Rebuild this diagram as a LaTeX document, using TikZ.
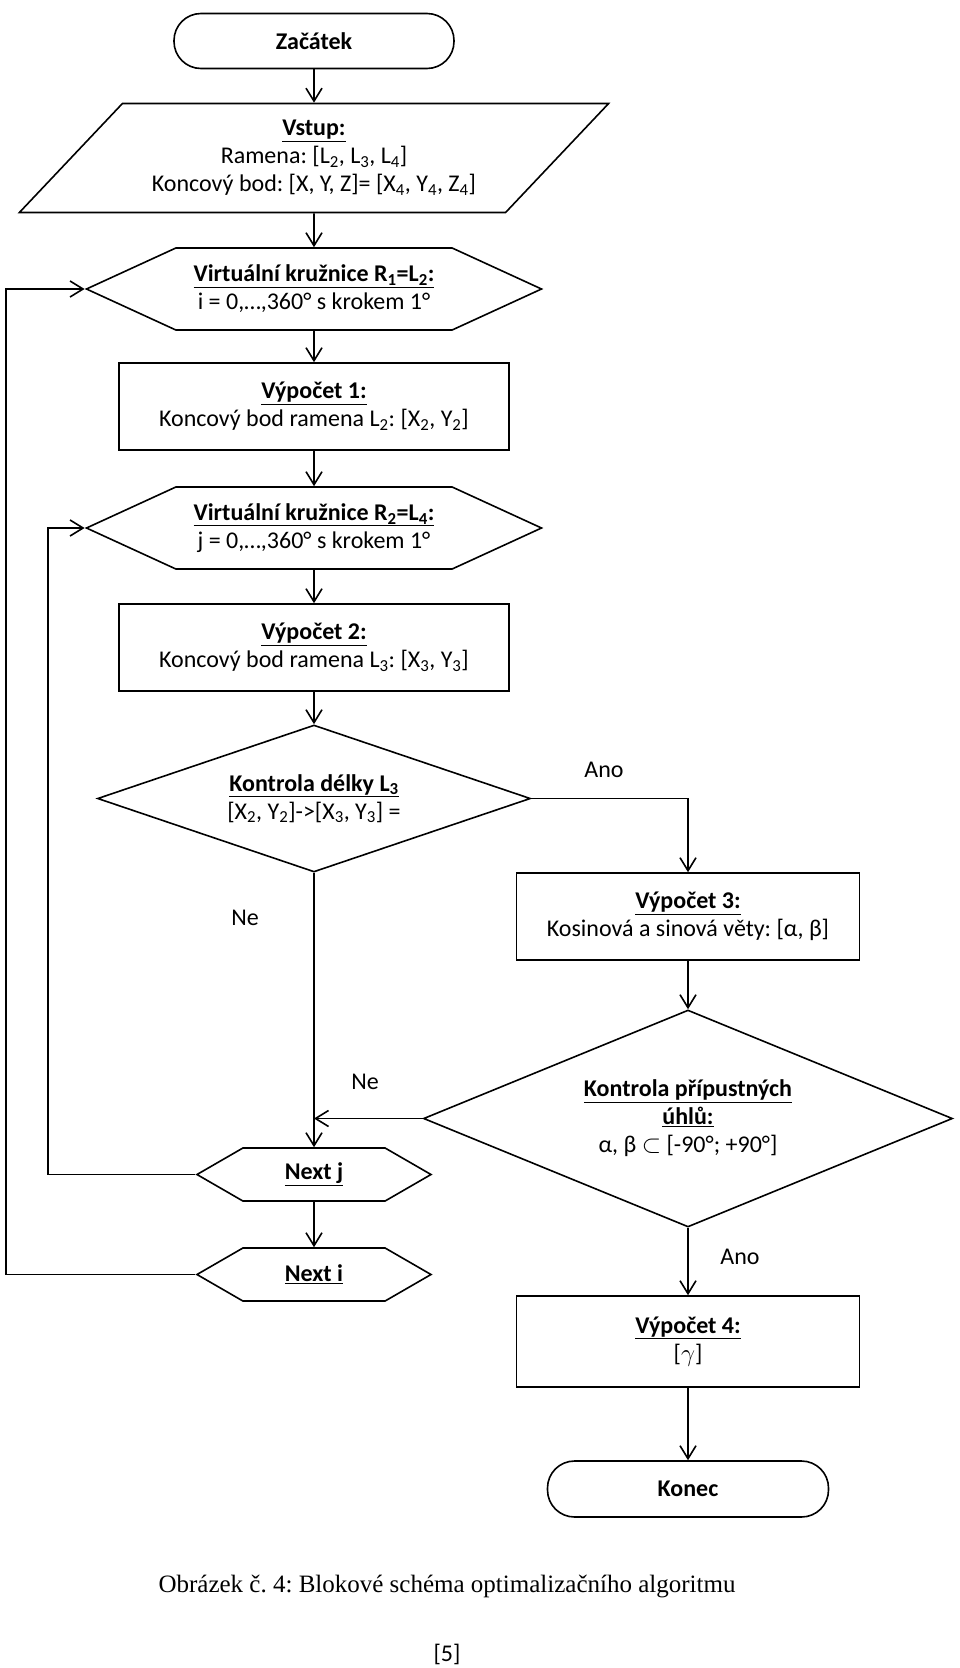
\documentclass[tikz,border=0pt]{standalone}
\usepackage{fontspec}
\setmainfont{Carlito}
\newfontfamily\popisfont{Liberation Serif}
\usetikzlibrary{arrows.meta,shapes.geometric,shapes.symbols}
\newcommand{\nadpis}[1]{\underline{\textbf{#1}}}
\frenchspacing

\begin{document}
\begin{tikzpicture}[x=1pt,y=-1pt,>={Straight Barb[length=13pt,width=16pt]},
 line width=1.6pt,font=\fontsize{24}{28}\selectfont,
 box/.style={draw,align=center,minimum width=390pt,minimum height=87pt},
 hexa/.style={draw,signal,signal to=west and east,align=center,inner sep=2pt},
 decision/.style={draw,diamond,align=center,inner sep=0pt},
 term/.style={draw,rounded corners=27pt,minimum height=55pt,font=\fontsize{24}{28}\selectfont\bfseries}]
\useasboundingbox (0,0) rectangle (960,1668);
\node[term,minimum width=280pt] (start) at (314,41) {Začátek};
\node[draw,trapezium,trapezium left angle=42.7,trapezium right angle=137.3,trapezium stretches=true,
 minimum width=593pt,minimum height=109pt,align=center] (in) at (314,158)
 {\nadpis{Vstup:}\\Ramena: [L\textsubscript{2}, L\textsubscript{3}, L\textsubscript{4}]\\
 Koncový bod: [X, Y, Z]= [X\textsubscript{4}, Y\textsubscript{4}, Z\textsubscript{4}]};
\node[hexa,minimum width=455pt,minimum height=82pt,signal pointer angle=49.3] (kr1) at (314,289)
 {\nadpis{Virtuální kružnice R\textsubscript{1}=L\textsubscript{2}:}\\i = 0,…,360° s krokem 1°};
\node[box] (vyp1) at (314,406.5)
 {\nadpis{Výpočet 1:}\\Koncový bod ramena L\textsubscript{2}: [X\textsubscript{2}, Y\textsubscript{2}]};
\node[hexa,minimum width=455pt,minimum height=82pt,signal pointer angle=49.3] (kr2) at (314,528)
 {\nadpis{Virtuální kružnice R\textsubscript{2}=L\textsubscript{4}:}\\j = 0,…,360° s krokem 1°};
\node[box] (vyp2) at (314,647.5)
 {\nadpis{Výpočet 2:}\\Koncový bod ramena L\textsubscript{3}: [X\textsubscript{3}, Y\textsubscript{3}]};
\node[decision,minimum width=433pt,minimum height=147pt,aspect=2.95] (kontr1) at (314,798.5)
 {\nadpis{Kontrola délky L\textsubscript{3}}\\{}[X\textsubscript{2}, Y\textsubscript{2}]->[X\textsubscript{3}, Y\textsubscript{3}] =};
\node[box,minimum width=343pt] (vyp3) at (688,916.5)
 {\nadpis{Výpočet 3:}\\Kosinová a sinová věty: [α, β]};
\node[decision,minimum width=529pt,minimum height=217pt,aspect=2.44] (kontr2) at (688,1118.5)
 {\nadpis{Kontrola přípustných}\\\nadpis{úhlů:}\\α, β $\subset$ [-90°; +90°]};
\node[hexa,minimum width=234pt,minimum height=53pt,signal pointer angle=60] (nextj) at (314,1174.5) {\nadpis{Next j}};
\node[hexa,minimum width=234pt,minimum height=53pt,signal pointer angle=60] (nexti) at (314,1274.5) {\nadpis{Next i}};
\node[box,minimum width=343pt,minimum height=91pt] (vyp4) at (688,1341.5)
 {\nadpis{Výpočet 4:}\\{}[$\gamma$]};
\node[term,minimum width=281pt,minimum height=56pt] (konec) at (688,1489) {Konec};
\coordinate (smyckai) at (6,0);
\coordinate (smyckaj) at (48,0);
% spojnice
\draw[->] (start) -- (in);
\draw[->] (in) -- (kr1);
\draw[->] (kr1) -- (vyp1);
\draw[->] (vyp1) -- (kr2);
\draw[->] (kr2) -- (vyp2);
\draw[->] (vyp2) -- (kontr1);
\draw[->] (kontr1.east) -| (vyp3.north);
\draw[->] (vyp3) -- (kontr2);
\draw[->] (kontr2.west) -- (kontr2.west -| kontr1.south);
\draw[->] (kontr1.south) -- (nextj.north);
\draw[->] (nextj) -- (nexti);
\draw[->] (nextj.west) -- (nextj.west -| smyckaj) |- (kr2.west);
\draw[->] (nexti.west) -- (nexti.west -| smyckai) |- (kr1.west);
\draw[->] (kontr2) -- (vyp4);
\draw[->] (vyp4) -- (konec);
\node (ano1) at (604,770) {Ano};
\node (ne1) at (245,918) {Ne};
\node (ne2) at (365,1082) {Ne};
\node (ano2) at (740,1257) {Ano};
\node[font=\popisfont\fontsize{25}{30}\selectfont] (popis) at (447,1586)
 {Obrázek č. 4: Blokové schéma optimalizačního algoritmu};
\node (zdroj) at (447,1654) {[5]};
\end{tikzpicture}
\end{document}
